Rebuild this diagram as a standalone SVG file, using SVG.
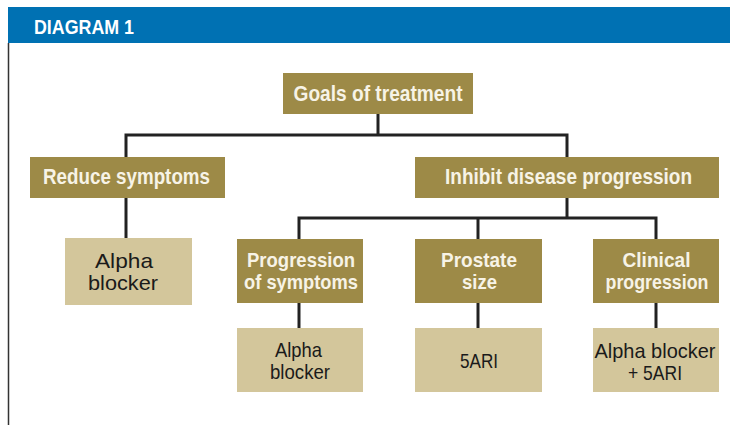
<svg xmlns="http://www.w3.org/2000/svg" width="730" height="425" viewBox="0 0 730 425">
<style>
.hd{fill:#9d8a47}
.lt{fill:#d3c69b}
.ht{font-family:"Liberation Sans",Arial,sans-serif;font-weight:bold;font-size:22px;fill:#f7f3e6;text-anchor:middle}
.h2{font-size:20.5px}
.bt{font-family:"Liberation Sans",Arial,sans-serif;font-size:21px;fill:#1a1a1a;text-anchor:middle}
.ln{stroke:#222;stroke-width:3;fill:none}
</style>
<rect x="0" y="0" width="730" height="425" fill="#ffffff"/>
<g id="header">
<rect x="8" y="7" width="722" height="36" fill="#0071b3"/>
<text x="34" y="34" font-family="Liberation Sans,Arial,sans-serif" font-weight="bold" font-size="20" fill="#ffffff" textLength="100" lengthAdjust="spacingAndGlyphs">DIAGRAM 1</text>
<line x1="8.5" y1="43" x2="8.5" y2="425" stroke="#333" stroke-width="1.5"/>
</g>
<g id="connectors" class="ln">
<line x1="378" y1="114" x2="378" y2="135"/>
<polyline points="126,157 126,135 567,135 567,157"/>
<line x1="126" y1="198" x2="126" y2="238"/>
<line x1="567" y1="198" x2="567" y2="218"/>
<polyline points="299,239 299,218 656,218 656,239"/>
<line x1="478" y1="218" x2="478" y2="239"/>
<line x1="299" y1="303" x2="299" y2="328"/>
<line x1="478" y1="303" x2="478" y2="328"/>
<line x1="656" y1="303" x2="656" y2="328"/>
</g>
<g id="goals">
<rect class="hd" x="283" y="73" width="190" height="41"/>
<text class="ht" x="378" y="101" textLength="169" lengthAdjust="spacingAndGlyphs">Goals of treatment</text>
</g>
<g id="reduce">
<rect class="hd" x="30" y="157" width="195" height="41"/>
<text class="ht" x="126.5" y="184" textLength="167" lengthAdjust="spacingAndGlyphs">Reduce symptoms</text>
</g>
<g id="inhibit">
<rect class="hd" x="415" y="157" width="304" height="41"/>
<text class="ht" x="568.5" y="184" textLength="247" lengthAdjust="spacingAndGlyphs">Inhibit disease progression</text>
</g>
<g id="alpha1">
<rect class="lt" x="65" y="238" width="127" height="67"/>
<text class="bt" x="124" y="268" font-size="22" textLength="58" lengthAdjust="spacingAndGlyphs">Alpha</text>
<text class="bt" x="123" y="290" font-size="22" textLength="70" lengthAdjust="spacingAndGlyphs">blocker</text>
</g>
<g id="progsym">
<rect class="hd" x="237" y="239" width="126" height="64"/>
<text class="ht h2" x="301" y="267" textLength="108" lengthAdjust="spacingAndGlyphs">Progression</text>
<text class="ht h2" x="301" y="289" textLength="114" lengthAdjust="spacingAndGlyphs">of symptoms</text>
</g>
<g id="prostate">
<rect class="hd" x="415" y="239" width="127" height="64"/>
<text class="ht h2" x="479" y="267" textLength="76" lengthAdjust="spacingAndGlyphs">Prostate</text>
<text class="ht h2" x="479.5" y="289" textLength="35" lengthAdjust="spacingAndGlyphs">size</text>
</g>
<g id="clinical">
<rect class="hd" x="593" y="239" width="126" height="64"/>
<text class="ht h2" x="656.5" y="267" textLength="68" lengthAdjust="spacingAndGlyphs">Clinical</text>
<text class="ht h2" x="657" y="289" textLength="103" lengthAdjust="spacingAndGlyphs">progression</text>
</g>
<g id="alpha2">
<rect class="lt" x="237" y="328" width="126" height="64"/>
<text class="bt" x="298.5" y="357" textLength="47" lengthAdjust="spacingAndGlyphs">Alpha</text>
<text class="bt" x="300" y="379" textLength="60" lengthAdjust="spacingAndGlyphs">blocker</text>
</g>
<g id="fiveari">
<rect class="lt" x="415" y="328" width="127" height="64"/>
<text class="bt" x="479" y="368" font-size="20" textLength="38" lengthAdjust="spacingAndGlyphs">5ARI</text>
</g>
<g id="combo">
<rect class="lt" x="593" y="328" width="126" height="64"/>
<text class="bt" x="655" y="358" textLength="121" lengthAdjust="spacingAndGlyphs">Alpha blocker</text>
<text class="bt" x="655" y="380" textLength="54" lengthAdjust="spacingAndGlyphs">+ 5ARI</text>
</g>
</svg>
